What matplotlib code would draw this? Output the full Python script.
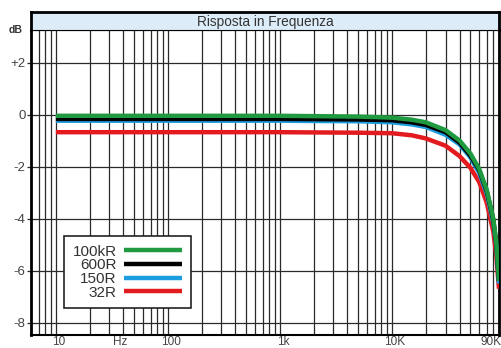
import numpy as np
import matplotlib.pyplot as plt
import matplotlib.transforms as mtransforms

plt.rcParams['font.family'] = ['Liberation Sans', 'DejaVu Sans']

# frequency points (Hz) and response (dB)
freq = [10, 1000, 5000, 10000, 15000, 20000, 30000, 40000, 50000, 60000,
        70000, 80000, 85000, 88000, 90000]
resp_100k = [-0.05, -0.05, -0.08, -0.12, -0.2, -0.3, -0.6, -1.0, -1.5, -2.1,
             -2.9, -4.0, -4.9, -5.8, -6.4]
resp_600 = [-0.17, -0.17, -0.19, -0.22, -0.3, -0.4, -0.68, -1.08, -1.58, -2.15,
            -2.95, -4.05, -4.95, -5.85, -6.4]
resp_150 = [-0.24, -0.24, -0.26, -0.3, -0.38, -0.48, -0.78, -1.15, -1.65, -2.25,
            -3.05, -4.15, -5.0, -5.9, -6.5]
resp_32 = [-0.68, -0.68, -0.7, -0.72, -0.8, -0.92, -1.2, -1.6, -2.05, -2.6,
           -3.4, -4.5, -5.4, -6.2, -6.7]

series = [("100kR", resp_100k, "#1f9a40"),
          ("600R", resp_600, "#000000"),
          ("150R", resp_150, "#1c9de0"),
          ("32R", resp_32, "#e31b1f")]

yticks = [2, 0, -2, -4, -6, -8]
ylabels = ["+2", "0", "-2", "-4", "-6", "-8"]
xticks = [10, 35, 100, 1000, 10000, 90000]
xlabels = ["10", "Hz", "100", "1k", "10K", "90K"]

W, H = 501, 348
fig = plt.figure(figsize=(W / 100, H / 100), dpi=100)
left, right, top, bottom = 31, 499, 30, 335
ax = fig.add_axes([left / W, 1 - bottom / H, (right - left) / W, (bottom - top) / H])

# grid: every 1-9 multiple of each decade
grid_x = [m * 10 ** d for d in range(0, 5) for m in range(1, 10)]
grid_x = [g for g in grid_x if 6 <= g <= 90000]
for g in grid_x:
    ax.axvline(g, color="#2a2a2a", lw=0.9, zorder=1)
for y in yticks:
    ax.axhline(y, color="#2a2a2a", lw=0.9, zorder=1)

handles = {}
for name, vals, col in reversed(series):
    h, = ax.plot(freq, vals, color=col, lw=3.2, solid_capstyle="butt", zorder=3)
    handles[name] = h

ax.set_xscale("log")
ax.set_xlim(6, 90000)
ax.set_ylim(-8.48, 3.25)
ax.set_yticks(yticks)
ax.set_yticklabels(ylabels)
ax.set_xticks(xticks)
ax.set_xticklabels(xlabels)
ax.minorticks_off()
ax.tick_params(axis="y", length=3, width=0.9, color="#2a2a2a", pad=1,
               labelsize=9.5, labelcolor="#444444")
ax.tick_params(axis="x", length=0, pad=1, labelsize=8.5, labelcolor="#444444")
off = mtransforms.ScaledTranslation(3 / 100, 0, fig.dpi_scale_trans)
for lab in ax.get_xticklabels():
    lab.set_transform(lab.get_transform() + off)
ax.get_xticklabels()[-1].set_horizontalalignment("right")

for s in ["left", "right"]:
    ax.spines[s].set_linewidth(2)
ax.spines["bottom"].set_linewidth(1.5)
ax.spines["top"].set_linewidth(0.8)

ax.text(-0.033, 1.0, "dB", transform=ax.transAxes, fontsize=7.5, fontweight="bold",
        ha="center", va="center", color="#333333")

leg = ax.legend([handles[n] for n, _, _ in series], [n for n, _, _ in series],
                loc="lower left", bbox_to_anchor=((64 - left) / (right - left),
                                                  (bottom - 308) / (bottom - top)),
                markerfirst=False, fancybox=False, framealpha=1,
                edgecolor="#222222", fontsize=11, handlelength=3.8,
                labelspacing=-0.02, borderpad=0.55, handletextpad=0.5,
                borderaxespad=0)
leg.get_frame().set_linewidth(1.2)
for t in leg.get_texts():
    t.set_color("#333333")
    t.set_ha("right")
leg._legend_box.align = "right"

# title band
band = fig.add_axes([left / W, 1 - top / H, (right - left) / W, (top - 12) / H])
band.set_facecolor("#dcedf9")
band.set_xticks([])
band.set_yticks([])
band.spines["top"].set_linewidth(2)
band.spines["left"].set_linewidth(2)
band.spines["right"].set_linewidth(2)
band.spines["bottom"].set_linewidth(0.8)
band.text(0.5, 0.45, "Risposta in Frequenza", ha="center", va="center",
          fontsize=9.8, color="#333333", transform=band.transAxes)

fig.savefig("out.png", dpi=100)
